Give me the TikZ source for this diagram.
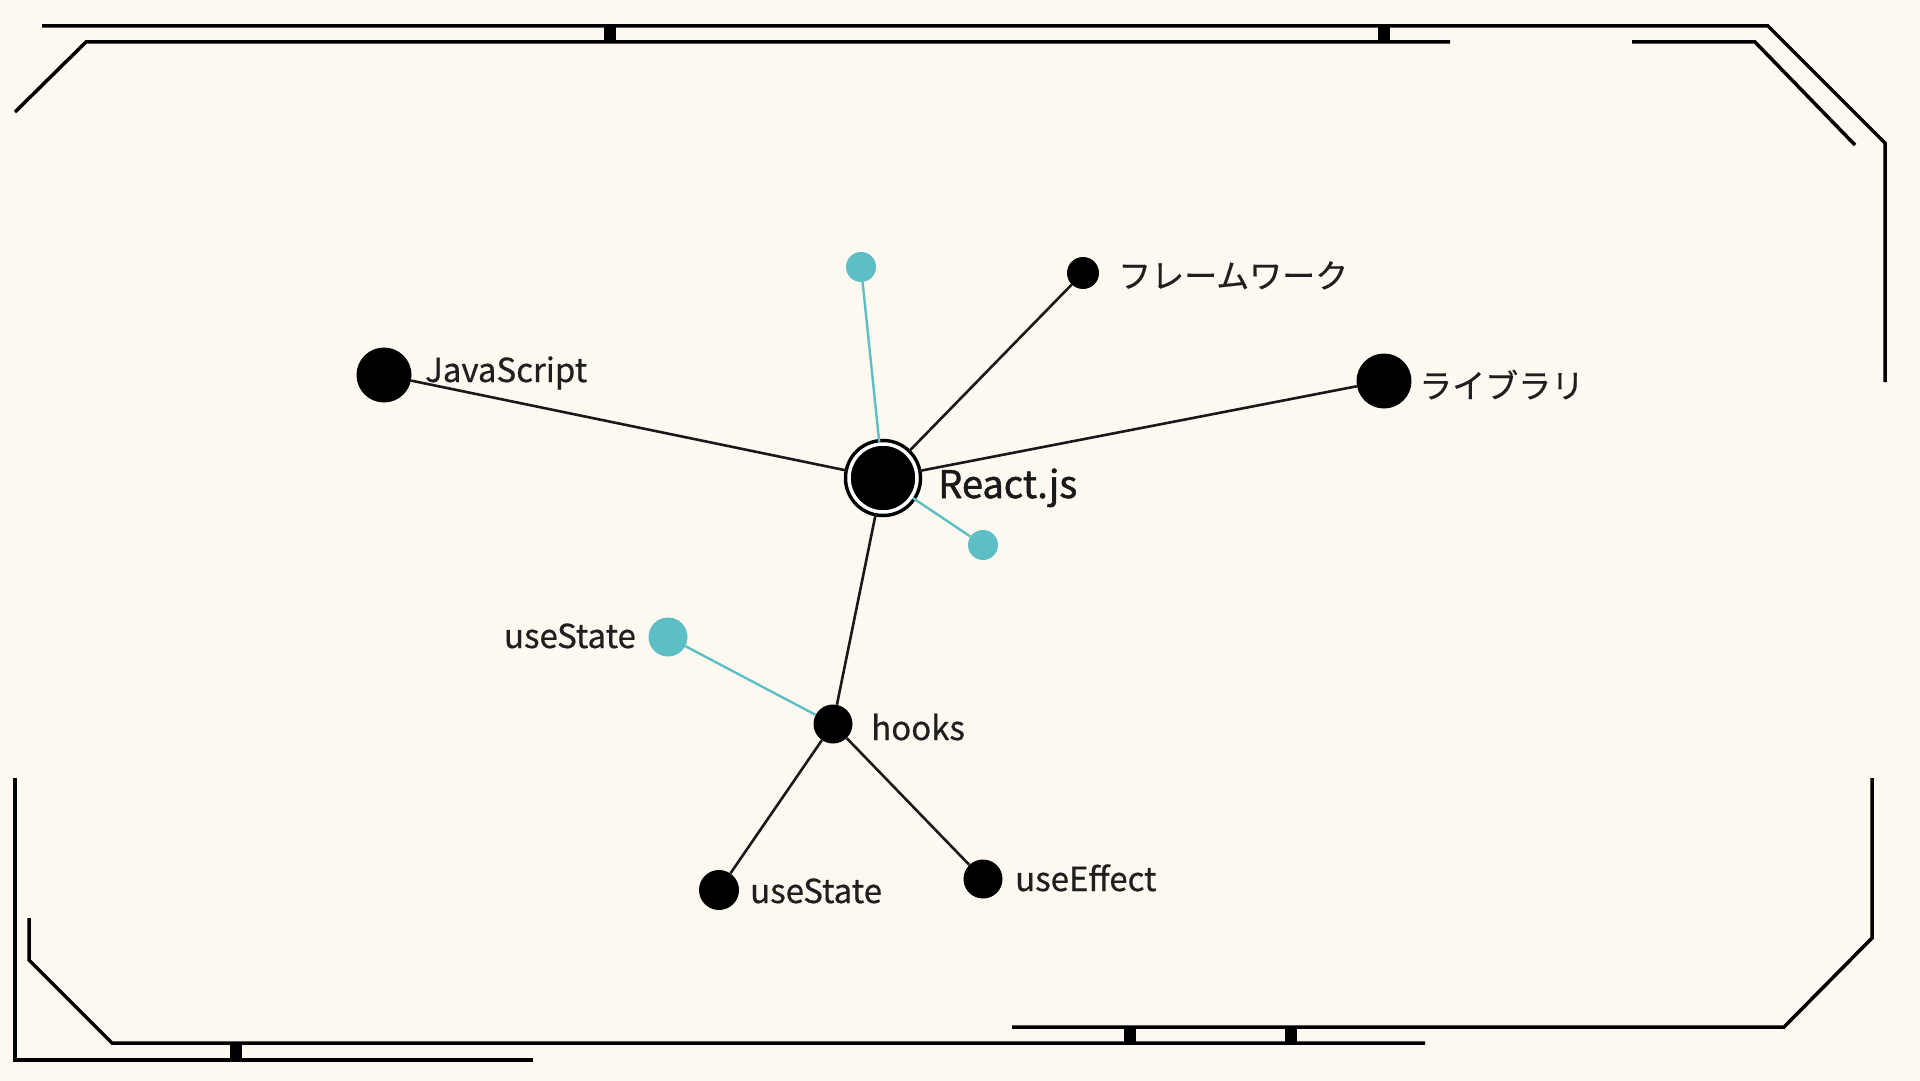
\documentclass[tikz,border=0pt]{standalone}
\usepackage{fontspec}
\setmainfont{Noto Sans CJK JP}
\newfontfamily\lblfam{Noto Sans CJK JP}[FakeBold=0.6]
\newfontfamily\rootfam{Noto Sans CJK JP}[FakeBold=1.4]
\definecolor{bg}{RGB}{253,249,240}
\definecolor{tealc}{RGB}{94,190,198}
\newcommand\lblsize{\lblfam\fontsize{33}{40}\selectfont}
\newcommand\rootsize{\rootfam\fontsize{38}{46}\selectfont}
\begin{document}
\begin{tikzpicture}[x=1pt,y=-1pt,
  framepath/.style={line width=3.5pt, line cap=butt, line join=miter, draw=black},
  tickbar/.style={fill=black},
  dot/.style={circle, fill=black, inner sep=0pt, draw=none},
  tdot/.style={circle, fill=tealc, inner sep=0pt, draw=none},
  lbl/.style={inner sep=0pt, text=black!88, font=\lblsize},
  edge/.style={draw=black!90, line width=2.6pt},
  tedge/.style={draw=tealc, line width=2.4pt}]
\fill[bg] (0,0) rectangle (1920,1081);
\useasboundingbox (0,0) rectangle (1920,1081);
% frame
\draw[framepath] (42,26) -- (1768,26) -- (1885,143) -- (1885,382);
\draw[framepath] (15,112) -- (86,42) -- (1450,42);
\draw[framepath] (1632,42) -- (1755,42) -- (1855,145);
\fill[tickbar] (604,26) rectangle (616,42);
\fill[tickbar] (1378,26) rectangle (1390,42);
\draw[framepath] (15,778) -- (15,1060) -- (533,1060);
\draw[framepath] (29,918) -- (29,960) -- (112,1043) -- (1425,1043);
\draw[framepath] (1012,1027) -- (1784,1027) -- (1872,938) -- (1872,778);
\fill[tickbar] (230,1043) rectangle (242,1060);
\fill[tickbar] (1124,1027) rectangle (1136,1043);
\fill[tickbar] (1285,1027) rectangle (1297,1043);
% nodes
\node[circle, fill=black, inner sep=0pt, minimum size=68pt, draw=black, line width=3.5pt, double=white, double distance=3.5pt] (react) at (883,478) {};
\node[dot, minimum size=55pt] (js) at (384,375) {};
\node[dot, minimum size=32pt] (fw) at (1083,273) {};
\node[dot, minimum size=55pt] (lib) at (1384,381) {};
\node[tdot, minimum size=30pt] (t1) at (861,267) {};
\node[tdot, minimum size=30pt] (t2) at (983,545) {};
\node[dot, minimum size=39pt] (hooks) at (833,724) {};
\node[tdot, minimum size=39pt] (tus) at (668,637) {};
\node[dot, minimum size=40pt] (us) at (719,890) {};
\node[dot, minimum size=39pt] (ue) at (983,879) {};
% labels
\node[lbl, anchor=base west] (jsL) at (425,382) {JavaScript};
\node[inner sep=0pt, text=black!90, font=\rootsize, anchor=base west] (reactL) at (938,498) {React.js};
\node[lbl, anchor=base west] (fwL) at (1118,288) {フレームワーク};
\node[lbl, anchor=base west] (libL) at (1419,398) {ライブラリ};
\node[lbl, anchor=base east] (tusL) at (636,648) {useState};
\node[lbl, anchor=base west] (hooksL) at (871,740) {hooks};
\node[lbl, anchor=base west] (usL) at (750,903) {useState};
\node[lbl, anchor=base west] (ueL) at (1015,891) {useEffect};
% edges
\draw[edge] (js) -- (react);
\draw[edge] (fw) -- (react);
\draw[edge] (lib) -- (react);
\draw[tedge] (t1) -- (react);
\draw[tedge] (t2) -- (react);
\draw[edge] (react) -- (hooks);
\draw[tedge] (hooks) -- (tus);
\draw[edge] (hooks) -- (us);
\draw[edge] (hooks) -- (ue);
\end{tikzpicture}
\end{document}
